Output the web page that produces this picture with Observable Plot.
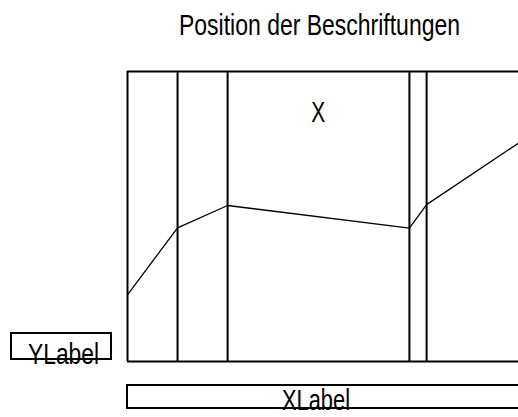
<!DOCTYPE html>
<html>
<head>
<meta charset="utf-8">
<script src="https://cdn.jsdelivr.net/npm/d3@7"></script>
<script src="https://cdn.jsdelivr.net/npm/@observablehq/plot@0.6"></script>
<style>
  html, body { margin: 0; padding: 0; background: #fff; overflow: hidden; }
  #chart svg { display: block; }
</style>
</head>
<body>
<div id="chart"></div>
<script>
// ---- data ----
const title = "Position der Beschriftungen";
const xLabel = "XLabel";
const yLabel = "YLabel";
const innerLabel = "X";
const verticalX = [12.8, 25.6, 72.1, 76.5];
const lineX = [0, 12.8, 25.6, 72.1, 76.5, 100];
const lineY = [23, 46.1, 53.8, 46, 54.1, 75.3];
const innerLabelPos = [{x: 48.8, y: 86}];

const points = lineX.map((x, i) => ({x, y: lineY[i]}));
const FONT = "'Liberation Sans', Arial, sans-serif";
const FS = 30;

const chart = Plot.plot({
  width: 518,
  height: 417,
  marginLeft: 127,
  marginRight: 0,
  marginTop: 71,
  marginBottom: 56,
  style: {fontFamily: FONT, fontSize: FS + "px", background: "#fff", overflow: "hidden"},
  x: {domain: [0, 100], axis: null},
  y: {domain: [0, 100], axis: null},
  marks: [
    Plot.ruleX(verticalX, {stroke: "black", strokeWidth: 2}),
    Plot.ruleX([0], {stroke: "black", strokeWidth: 2}),
    Plot.ruleY([0, 100], {stroke: "black", strokeWidth: 2}),
    Plot.line(points, {x: "x", y: "y", stroke: "black", strokeWidth: 1.3}),
    Plot.text(innerLabelPos, {x: "x", y: "y", text: () => innerLabel, fontSize: FS, fill: "black", className: "inner-label"})
  ]
});

document.getElementById("chart").appendChild(chart);

const svg = d3.select(chart);
const xr = chart.scale("x").range;

// condense the inner label like a narrow face
svg.selectAll(".inner-label text")
  .attr("textLength", 14).attr("lengthAdjust", "spacingAndGlyphs");

function label(str, x, y, len) {
  svg.append("text")
    .attr("x", x).attr("y", y)
    .attr("text-anchor", "middle")
    .attr("font-family", FONT).attr("font-size", FS)
    .attr("fill", "black")
    .attr("textLength", len).attr("lengthAdjust", "spacingAndGlyphs")
    .text(str);
}

label(title, 319.5, 35, 281);

// y label box
svg.append("rect")
  .attr("x", 11).attr("y", 333).attr("width", 100).attr("height", 26)
  .attr("fill", "none").attr("stroke", "black").attr("stroke-width", 2);
label(yLabel, 63.5, 364, 71);

// x label box
svg.append("rect")
  .attr("x", xr[0]).attr("y", 385).attr("width", xr[1] - xr[0] + 10).attr("height", 23)
  .attr("fill", "none").attr("stroke", "black").attr("stroke-width", 2);
label(xLabel, 316, 410, 68);
</script>
</body>
</html>
